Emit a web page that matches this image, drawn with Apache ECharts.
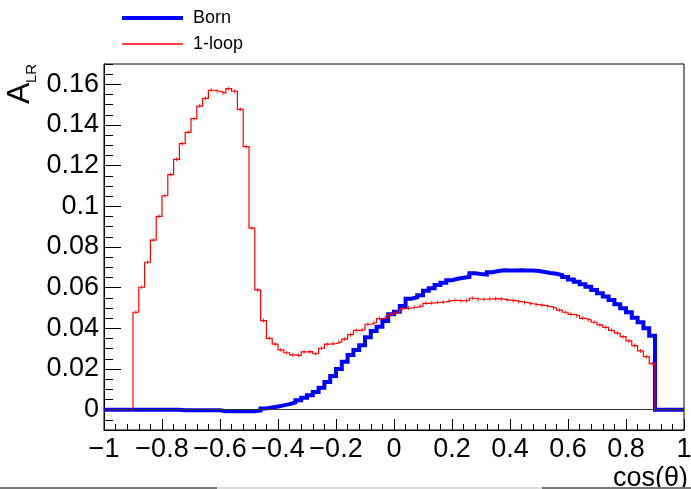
<!DOCTYPE html>
<html>
<head>
<meta charset="utf-8">
<script src="https://cdn.jsdelivr.net/npm/echarts@6/dist/echarts.min.js"></script>
<style>html,body{margin:0;padding:0;background:#fff}#c{width:691px;height:489px}</style>
</head>
<body>
<div id="c"></div>
<script>
// bin edges of the histogram (100 bins of width 0.02 from -1 to 1)
const binEdges = [-1,-0.98,-0.96,-0.94,-0.92,-0.9,-0.88,-0.86,-0.84,-0.82,-0.8,-0.78,-0.76,-0.74,-0.72,-0.7,-0.68,-0.66,-0.64,-0.62,-0.6,-0.58,-0.56,-0.54,-0.52,-0.5,-0.48,-0.46,-0.44,-0.42,-0.4,-0.38,-0.36,-0.34,-0.32,-0.3,-0.28,-0.26,-0.24,-0.22,-0.2,-0.18,-0.16,-0.14,-0.12,-0.1,-0.08,-0.06,-0.04,-0.02,0,0.02,0.04,0.06,0.08,0.1,0.12,0.14,0.16,0.18,0.2,0.22,0.24,0.26,0.28,0.3,0.32,0.34,0.36,0.38,0.4,0.42,0.44,0.46,0.48,0.5,0.52,0.54,0.56,0.58,0.6,0.62,0.64,0.66,0.68,0.7,0.72,0.74,0.76,0.78,0.8,0.82,0.84,0.86,0.88,0.9,0.92,0.94,0.96,0.98,1];

// Born A_LR per bin
const bornValues = [
 0,0,0,0,0,0,0,0,0,0,
 0,0,0,-0.0003,-0.0003,-0.0003,-0.0003,-0.0003,-0.0003,-0.0003,
 -0.0008,-0.0008,-0.0008,-0.0008,-0.0008,-0.0008,-0.0004,0.0006,0.0011,0.0016,
 0.0021,0.0027,0.0035,0.0046,0.0058,0.0071,0.0087,0.0108,0.0136,0.0165,
 0.0200,0.0236,0.0269,0.0294,0.0317,0.0356,0.0387,0.0408,0.0436,0.0469,
 0.0482,0.0510,0.0546,0.0553,0.0563,0.0585,0.0597,0.0613,0.0624,0.0637,
 0.0644,0.0649,0.0653,0.0671,0.0667,0.0664,0.0676,0.0682,0.0686,0.0684,
 0.0685,0.0686,0.0684,0.0684,0.0682,0.0677,0.0672,0.0668,0.0662,0.0652,
 0.0640,0.0629,0.0617,0.0605,0.0589,0.0572,0.0556,0.0539,0.0518,0.0499,
 0.0479,0.0452,0.0430,0.0400,0.0364,0,0,0,0,0
];

// 1-loop A_LR per bin
const loopValues = [
 0,0,0,0,0,0.0479,0.0602,0.0725,0.0834,0.0951,
 0.1052,0.1156,0.1231,0.1308,0.1364,0.1431,0.1493,0.1531,0.1571,0.1566,
 0.1557,0.1579,0.1566,0.1477,0.1294,0.0893,0.0589,0.0438,0.0351,0.0322,
 0.0294,0.0280,0.0269,0.0266,0.0284,0.0285,0.0275,0.0302,0.0322,0.0325,
 0.0334,0.0347,0.0369,0.0390,0.0393,0.0420,0.0428,0.0448,0.0452,0.0469,
 0.0479,0.0497,0.0500,0.0504,0.0510,0.0523,0.0525,0.0528,0.0530,0.0536,
 0.0538,0.0535,0.0537,0.0548,0.0543,0.0543,0.0545,0.0546,0.0544,0.0539,
 0.0536,0.0531,0.0526,0.0521,0.0517,0.0513,0.0507,0.0500,0.0490,0.0479,
 0.0469,0.0462,0.0449,0.0441,0.0430,0.0417,0.0405,0.0390,0.0376,0.0359,
 0.0338,0.0315,0.0289,0.0261,0.0226,0,0,0,0,0
];

const yMajorTicks = [0,0.02,0.04,0.06,0.08,0.1,0.12,0.14,0.16];
const seriesNames = ['Born','1-loop'];
const xTitle = 'cos(θ)';

const FONT = 'Liberation Sans, Arial, Helvetica, sans-serif';

function histData(vals){
  const d = vals.map((v,i)=>[binEdges[i], v]);
  d.push([binEdges[binEdges.length-1], vals[vals.length-1]]);
  return d;
}
const errMarks = [];
loopValues.forEach((v,i)=>{ if(v!==0) errMarks.push([(binEdges[i]+binEdges[i+1])/2, v]); });

const yMinor = [];
for(let k=-2;k<=34;k++) yMinor.push(+(k*0.005).toFixed(3));

const chart = echarts.init(document.getElementById('c'), null, {renderer:'canvas'});
chart.setOption({
  animation:false,
  backgroundColor:'#fff',
  grid:{left:104,right:7,top:64,bottom:59,show:true,borderColor:'#000',borderWidth:1,backgroundColor:'transparent',containLabel:false,outerBoundsMode:'none'},
  legend:[
    {data:[seriesNames[0]],left:117,top:4,orient:'vertical',icon:'rect',itemWidth:61,itemHeight:4,
     textStyle:{fontFamily:FONT,fontSize:18,color:'#000',padding:[0,0,0,5]}},
    {data:[seriesNames[1]],left:117,top:30,orient:'vertical',icon:'rect',itemWidth:61,itemHeight:1.5,
     textStyle:{fontFamily:FONT,fontSize:18,color:'#000',padding:[0,0,0,5]}}
  ],
  xAxis:{type:'value',min:-1,max:1,interval:0.2,
    axisLine:{show:true,onZero:false,lineStyle:{color:'#000',width:1}},
    axisTick:{show:true,inside:true,length:11,lineStyle:{color:'#000'}},
    minorTick:{show:true,splitNumber:5,length:6,lineStyle:{color:'#000'}},
    splitLine:{show:false},
    axisLabel:{fontFamily:FONT,fontSize:27,color:'#000',margin:6,
      formatter:v=>parseFloat(v.toFixed(4)).toString().replace('-','\u2212')}
  },
  yAxis:[
    {type:'value',min:-0.01,max:0.17,
     axisLine:{show:true,onZero:false,lineStyle:{color:'#000',width:1}},
     axisTick:{show:true,inside:true,length:17,customValues:yMajorTicks,lineStyle:{color:'#000'}},
     splitLine:{show:false},
     axisLabel:{fontFamily:FONT,fontSize:27,color:'#000',margin:5,customValues:yMajorTicks,
       formatter:v=>parseFloat(v.toFixed(4)).toString()}
    },
    {type:'value',min:-0.01,max:0.17,position:'left',offset:0,
     axisLine:{show:false,onZero:false},
     axisTick:{show:true,inside:true,length:9,customValues:yMinor,lineStyle:{color:'#000'}},
     splitLine:{show:false},
     axisLabel:{show:false,customValues:yMinor}
    }
  ],
  graphic:[
    {type:'group',x:36,y:104,rotation:Math.PI/2,children:[
      {type:'text',x:0,y:0,style:{text:'A',font:'32px '+FONT,fill:'#000',align:'left',verticalAlign:'bottom'}},
      {type:'text',x:21,y:3,style:{text:'LR',font:'15px '+FONT,fill:'#000',align:'left',verticalAlign:'bottom'}}
    ]},
    {type:'text',right:3,top:465,style:{text:xTitle,font:'27px '+FONT,fill:'#000'}},
    {type:'rect',shape:{x:0,y:487,width:217,height:2},style:{fill:'#777'}},
    {type:'rect',shape:{x:217,y:487,width:325,height:2},style:{fill:'#ddd'}},
    {type:'rect',shape:{x:542,y:487,width:149,height:2},style:{fill:'#777'}}
  ],
  series:[
    {name:'zero',type:'line',data:[],silent:true,z:1,
     markLine:{silent:true,symbol:'none',label:{show:false},lineStyle:{color:'#333',width:1,type:'solid'},data:[{yAxis:0}],animation:false}},
    {name:seriesNames[0],type:'line',step:'end',data:histData(bornValues),showSymbol:false,symbol:'none',
     color:'#0000ff',lineStyle:{color:'#0000ff',width:4,join:'miter',cap:'butt'},z:3},
    {name:seriesNames[1],type:'line',step:'end',data:histData(loopValues),showSymbol:false,symbol:'none',
     color:'#ff0000',lineStyle:{color:'#ff0000',width:1.2,join:'miter'},z:4},
    {name:'err',type:'scatter',data:errMarks,symbol:'rect',symbolSize:[1,4],itemStyle:{color:'#ff0000'},silent:true,z:4}
  ]
});
</script>
</body>
</html>
